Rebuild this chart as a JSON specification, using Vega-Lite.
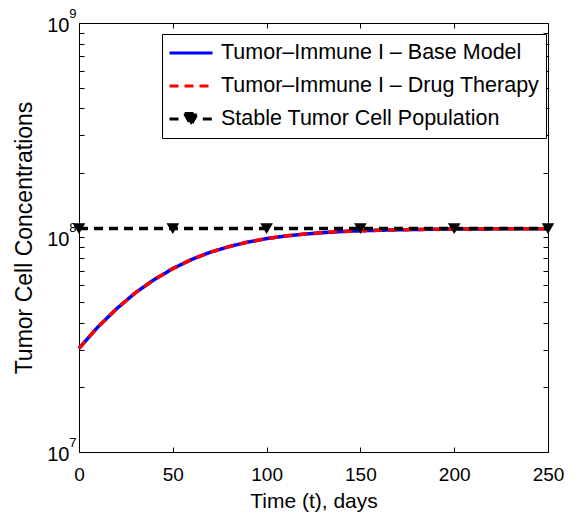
{
  "$schema": "https://vega.github.io/schema/vega-lite/v6.json",
  "width": 469,
  "height": 429,
  "autosize": {"type": "none"},
  "padding": {"left": 79, "top": 23, "right": 31, "bottom": 66},
  "background": "white",
  "data": {
    "values": [
      {"series": "Tumor–Immune I – Base Model", "t": 0, "N": 30400000},
      {"series": "Tumor–Immune I – Base Model", "t": 10, "N": 38200000},
      {"series": "Tumor–Immune I – Base Model", "t": 20, "N": 46500000},
      {"series": "Tumor–Immune I – Base Model", "t": 30, "N": 55200000},
      {"series": "Tumor–Immune I – Base Model", "t": 40, "N": 63600000},
      {"series": "Tumor–Immune I – Base Model", "t": 50, "N": 71600000},
      {"series": "Tumor–Immune I – Base Model", "t": 60, "N": 79000000},
      {"series": "Tumor–Immune I – Base Model", "t": 70, "N": 85400000},
      {"series": "Tumor–Immune I – Base Model", "t": 80, "N": 90700000},
      {"series": "Tumor–Immune I – Base Model", "t": 90, "N": 95200000},
      {"series": "Tumor–Immune I – Base Model", "t": 100, "N": 98800000},
      {"series": "Tumor–Immune I – Base Model", "t": 110, "N": 101600000},
      {"series": "Tumor–Immune I – Base Model", "t": 120, "N": 103700000},
      {"series": "Tumor–Immune I – Base Model", "t": 130, "N": 105300000},
      {"series": "Tumor–Immune I – Base Model", "t": 140, "N": 106600000},
      {"series": "Tumor–Immune I – Base Model", "t": 150, "N": 107500000},
      {"series": "Tumor–Immune I – Base Model", "t": 160, "N": 108100000},
      {"series": "Tumor–Immune I – Base Model", "t": 170, "N": 108600000},
      {"series": "Tumor–Immune I – Base Model", "t": 180, "N": 109000000},
      {"series": "Tumor–Immune I – Base Model", "t": 190, "N": 109300000},
      {"series": "Tumor–Immune I – Base Model", "t": 200, "N": 109500000},
      {"series": "Tumor–Immune I – Base Model", "t": 210, "N": 109600000},
      {"series": "Tumor–Immune I – Base Model", "t": 220, "N": 109700000},
      {"series": "Tumor–Immune I – Base Model", "t": 230, "N": 109800000},
      {"series": "Tumor–Immune I – Base Model", "t": 240, "N": 109850000},
      {"series": "Tumor–Immune I – Base Model", "t": 250, "N": 109900000},
      {"series": "Tumor–Immune I – Drug Therapy", "t": 0, "N": 30400000},
      {"series": "Tumor–Immune I – Drug Therapy", "t": 10, "N": 38200000},
      {"series": "Tumor–Immune I – Drug Therapy", "t": 20, "N": 46500000},
      {"series": "Tumor–Immune I – Drug Therapy", "t": 30, "N": 55200000},
      {"series": "Tumor–Immune I – Drug Therapy", "t": 40, "N": 63600000},
      {"series": "Tumor–Immune I – Drug Therapy", "t": 50, "N": 71600000},
      {"series": "Tumor–Immune I – Drug Therapy", "t": 60, "N": 79000000},
      {"series": "Tumor–Immune I – Drug Therapy", "t": 70, "N": 85400000},
      {"series": "Tumor–Immune I – Drug Therapy", "t": 80, "N": 90700000},
      {"series": "Tumor–Immune I – Drug Therapy", "t": 90, "N": 95200000},
      {"series": "Tumor–Immune I – Drug Therapy", "t": 100, "N": 98800000},
      {"series": "Tumor–Immune I – Drug Therapy", "t": 110, "N": 101600000},
      {"series": "Tumor–Immune I – Drug Therapy", "t": 120, "N": 103700000},
      {"series": "Tumor–Immune I – Drug Therapy", "t": 130, "N": 105300000},
      {"series": "Tumor–Immune I – Drug Therapy", "t": 140, "N": 106600000},
      {"series": "Tumor–Immune I – Drug Therapy", "t": 150, "N": 107500000},
      {"series": "Tumor–Immune I – Drug Therapy", "t": 160, "N": 108100000},
      {"series": "Tumor–Immune I – Drug Therapy", "t": 170, "N": 108600000},
      {"series": "Tumor–Immune I – Drug Therapy", "t": 180, "N": 109000000},
      {"series": "Tumor–Immune I – Drug Therapy", "t": 190, "N": 109300000},
      {"series": "Tumor–Immune I – Drug Therapy", "t": 200, "N": 109500000},
      {"series": "Tumor–Immune I – Drug Therapy", "t": 210, "N": 109600000},
      {"series": "Tumor–Immune I – Drug Therapy", "t": 220, "N": 109700000},
      {"series": "Tumor–Immune I – Drug Therapy", "t": 230, "N": 109800000},
      {"series": "Tumor–Immune I – Drug Therapy", "t": 240, "N": 109850000},
      {"series": "Tumor–Immune I – Drug Therapy", "t": 250, "N": 109900000},
      {"series": "Stable Tumor Cell Population", "t": 0, "N": 110000000},
      {"series": "Stable Tumor Cell Population", "t": 50, "N": 110000000},
      {"series": "Stable Tumor Cell Population", "t": 100, "N": 110000000},
      {"series": "Stable Tumor Cell Population", "t": 150, "N": 110000000},
      {"series": "Stable Tumor Cell Population", "t": 200, "N": 110000000},
      {"series": "Stable Tumor Cell Population", "t": 250, "N": 110000000}
    ]
  },
  "encoding": {
    "x": {"field": "t", "type": "quantitative", "scale": {"domain": [0, 250], "nice": false, "zero": false}},
    "y": {"field": "N", "type": "quantitative", "scale": {"type": "log", "domain": [10000000, 1000000000], "nice": false}}
  },
  "layer": [
    {
      "transform": [{"filter": "datum.series === 'Tumor–Immune I – Base Model'"}],
      "mark": {"type": "line", "strokeWidth": 3.5},
      "encoding": {
        "x": {"field": "t", "type": "quantitative", "axis": {"orient": "bottom", "values": [0, 50, 100, 150, 200, 250], "title": "Time (t), days", "offset": -5, "labelPadding": 13, "labelFlush": false, "titlePadding": 6}},
        "y": {"field": "N", "type": "quantitative", "axis": {"orient": "left", "values": [10000000, 20000000, 30000000, 40000000, 50000000, 60000000, 70000000, 80000000, 90000000, 100000000, 200000000, 300000000, 400000000, 500000000, 600000000, 700000000, 800000000, 900000000, 1000000000], "labelExpr": "datum.value == 10000000 ? '10' : datum.value == 100000000 ? '10' : datum.value == 1000000000 ? '10' : ''", "labelOverlap": false, "labelFlush": false, "offset": -5, "labelPadding": 10, "labelOffset": 2, "labelFontSize": 20, "title": "Tumor Cell Concentrations", "titleFontSize": 23, "titlePadding": 10}},
        "color": {"field": "series", "type": "nominal", "scale": {"domain": ["Tumor–Immune I – Base Model", "Tumor–Immune I – Drug Therapy", "Stable Tumor Cell Population"], "range": ["#0000ff", "#ff0000", "#000000"]}, "legend": {"title": null, "orient": "none", "legendX": 83, "legendY": 11}},
        "strokeDash": {"field": "series", "type": "nominal", "scale": {"domain": ["Tumor–Immune I – Base Model", "Tumor–Immune I – Drug Therapy", "Stable Tumor Cell Population"], "range": [[1, 0], [9, 6], [9, 6]]}, "legend": {"title": null, "orient": "none", "legendX": 83, "legendY": 11}}
      }
    },
    {
      "transform": [{"filter": "datum.series === 'Tumor–Immune I – Drug Therapy'"}],
      "mark": {"type": "line", "strokeWidth": 3.5},
      "encoding": {
        "x": {"field": "t", "type": "quantitative", "axis": {"orient": "top", "values": [0, 50, 100, 150, 200, 250], "labels": false, "title": null, "offset": -5}},
        "y": {"field": "N", "type": "quantitative", "axis": {"orient": "right", "values": [10000000, 20000000, 30000000, 40000000, 50000000, 60000000, 70000000, 80000000, 90000000, 100000000, 200000000, 300000000, 400000000, 500000000, 600000000, 700000000, 800000000, 900000000, 1000000000], "labels": false, "title": null, "offset": -5}},
        "color": {"field": "series", "type": "nominal"},
        "strokeDash": {"field": "series", "type": "nominal"}
      }
    },
    {
      "transform": [{"filter": "datum.series === 'Stable Tumor Cell Population'"}],
      "mark": {"type": "line", "strokeWidth": 3.5},
      "encoding": {
        "x": {"field": "t", "type": "quantitative", "axis": null},
        "y": {"field": "N", "type": "quantitative", "axis": {"orient": "left", "values": [10000000, 100000000, 1000000000], "labelExpr": "datum.value == 10000000 ? '7' : datum.value == 100000000 ? '8' : '9'", "labelOverlap": false, "labelFlush": false, "ticks": false, "tickSize": 0, "labelPadding": 3, "labelOffset": -10, "labelFontSize": 13, "title": null}},
        "color": {"field": "series", "type": "nominal"},
        "strokeDash": {"field": "series", "type": "nominal"}
      }
    },
    {
      "transform": [{"filter": "datum.series === 'Stable Tumor Cell Population'"}],
      "mark": {"type": "point", "shape": "triangle-down", "filled": true, "size": 160, "color": "black", "opacity": 1},
      "encoding": {
        "x": {"field": "t", "type": "quantitative", "axis": null},
        "y": {"field": "N", "type": "quantitative", "axis": null}
      }
    },
    {
      "transform": [{"filter": "datum.t < 0"}],
      "mark": {"type": "point", "filled": true, "opacity": 1},
      "encoding": {
        "x": {"field": "t", "type": "quantitative", "axis": null},
        "y": {"field": "N", "type": "quantitative", "axis": null},
        "color": {"field": "series", "type": "nominal"},
        "shape": {"field": "series", "type": "nominal", "scale": {"domain": ["Tumor–Immune I – Base Model", "Tumor–Immune I – Drug Therapy", "Stable Tumor Cell Population"], "range": ["stroke", "stroke", "M-1,0L-0.55,0M0.55,0L1,0M-0.3,-0.26L0.3,-0.26L0,0.28Z"]}, "legend": {"title": null, "orient": "none", "legendX": 83, "legendY": 11}}
      }
    }
  ],
  "resolve": {"axis": {"x": "independent", "y": "independent"}},
  "config": {
    "font": "Liberation Sans",
    "view": {"stroke": "black", "strokeWidth": 1},
    "axis": {"domain": false, "grid": false, "ticks": true, "tickColor": "black", "tickSize": 5, "tickWidth": 1, "labelColor": "black", "titleColor": "black", "labelFont": "Liberation Sans", "titleFont": "Liberation Sans", "labelFontSize": 19, "titleFontSize": 21, "titleFontWeight": "normal"},
    "legend": {"labelFont": "Liberation Sans", "labelFontSize": 21.5, "labelColor": "black", "labelLimit": 400, "symbolSize": 1849, "symbolStrokeWidth": 3, "clipHeight": 26, "rowPadding": 7, "padding": 6, "labelOffset": 7, "symbolOffset": 0, "fillColor": "white", "strokeColor": "black", "cornerRadius": 0}
  }
}
